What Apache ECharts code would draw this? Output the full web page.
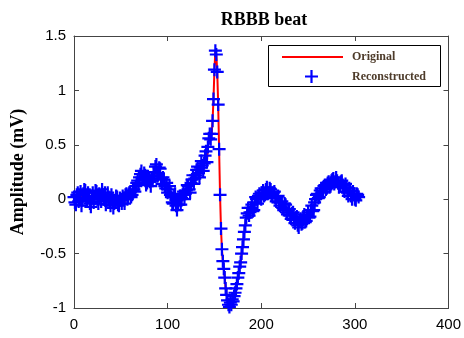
<!DOCTYPE html>
<html>
<head>
<meta charset="utf-8">
<script src="https://cdn.jsdelivr.net/npm/echarts@6/dist/echarts.min.js"></script>
<style>
html,body{margin:0;padding:0;background:#fff;}
#chart{width:464px;height:338px;}
</style>
</head>
<body>
<div id="chart"></div>
<script>
// Amplitude (mV) of the original beat, one value per sample (sample 0 .. 304)
var original = [
  0.02,-0.03,-0.05,0.04,0.06,-0.02,0.00,0.07,-0.06,-0.01,
  0.05,0.09,0.08,0.01,-0.02,0.06,0.03,-0.04,-0.07,0.02,
  0.06,-0.03,0.01,0.08,0.07,0.00,-0.04,0.05,0.03,-0.02,
  0.09,0.04,0.00,0.06,-0.05,-0.01,0.06,0.02,-0.02,-0.06,
  0.04,0.00,-0.08,-0.04,-0.03,0.03,0.02,-0.05,-0.06,0.01,
  -0.01,-0.04,0.03,0.00,-0.04,0.04,0.05,0.00,0.02,0.06,
  0.06,0.02,0.04,0.08,0.09,0.07,0.12,0.15,0.17,0.14,
  0.20,0.23,0.26,0.19,0.18,0.24,0.22,0.13,0.15,0.21,
  0.20,0.16,0.12,0.19,0.17,0.25,0.22,0.30,0.32,0.21,
  0.24,0.29,0.28,0.19,0.14,0.20,0.18,0.12,0.10,0.15,
  0.06,0.09,0.12,0.04,0.02,-0.03,-0.04,0.03,0.05,-0.06,
  -0.10,-0.05,0.00,0.03,-0.05,0.01,0.04,0.07,0.00,0.05,
  0.08,0.13,0.12,0.09,0.06,0.15,0.18,0.22,0.14,0.19,
  0.22,0.27,0.30,0.24,0.20,0.29,0.35,0.31,0.26,0.33,
  0.40,0.44,0.34,0.48,0.56,0.60,0.55,0.60,0.72,0.92,
  1.19,1.365,1.33,1.17,0.87,0.46,0.04,-0.27,-0.46,-0.57,
  -0.64,-0.72,-0.82,-0.88,-0.93,-0.97,-0.99,-0.95,-0.97,-0.92,
  -0.94,-0.89,-0.86,-0.82,-0.78,-0.72,-0.68,-0.62,-0.58,-0.50,
  -0.44,-0.37,-0.30,-0.24,-0.17,-0.13,-0.08,-0.15,-0.12,-0.08,
  -0.05,-0.11,-0.10,-0.03,0.02,0.00,-0.04,0.03,0.05,0.01,
  0.00,0.06,0.08,0.03,0.04,0.09,0.11,0.05,0.06,0.10,
  0.09,0.04,0.02,0.06,0.07,0.01,-0.02,0.02,0.03,-0.03,
  -0.06,-0.03,-0.02,-0.08,-0.10,-0.04,-0.05,-0.12,-0.14,-0.10,
  -0.09,-0.15,-0.18,-0.13,-0.12,-0.19,-0.22,-0.17,-0.16,-0.24,
  -0.26,-0.20,-0.18,-0.23,-0.22,-0.16,-0.14,-0.21,-0.20,-0.15,
  -0.12,-0.17,-0.16,-0.10,-0.06,-0.11,-0.10,-0.03,0.00,0.04,
  0.05,0.01,0.02,0.08,0.10,0.06,0.07,0.12,0.13,0.09,
  0.10,0.15,0.16,0.11,0.12,0.17,0.18,0.19,0.14,0.16,
  0.20,0.17,0.15,0.11,0.12,0.16,0.17,0.13,0.10,0.07,
  0.14,0.11,0.06,0.03,0.10,0.08,0.03,0.00,0.07,0.05,
  0.00,-0.01,0.05,0.04,0.02
];
// Reconstructed beat (indistinguishable from the original at this scale)
var reconstructed = original.slice();

var xTicks = [0, 100, 200, 300, 400];
var yTicks = [-1, -0.5, 0, 0.5, 1, 1.5];

var origData = original.map(function (v, i) { return [i, v]; });
var recData = reconstructed.map(function (v, i) { return [i, v]; });

var plusPath = 'path://M4.15,0 H5.85 V4.15 H10 V5.85 H5.85 V10 H4.15 V5.85 H0 V4.15 H4.15 Z';
var axisColor = '#444';
var tickFont = { color: '#000', fontFamily: 'Liberation Sans', fontSize: 15 };
var legendText = { color: '#4d3b2a', fontFamily: 'Liberation Serif', fontWeight: 'bold', fontSize: 12 };

var chart = echarts.init(document.getElementById('chart'), null, { renderer: 'canvas' });
chart.setOption({
  animation: false,
  backgroundColor: '#fff',
  title: {
    text: 'RBBB beat',
    left: 259,
    textAlign: 'center',
    top: 6,
    textStyle: { fontFamily: 'Liberation Serif', fontWeight: 'bold', fontSize: 18, color: '#000' }
  },
  grid: { left: 74, right: 15, top: 36, bottom: 30, show: false },
  xAxis: [{
    type: 'value',
    min: xTicks[0], max: xTicks[xTicks.length - 1], interval: 100,
    axisLine: { show: true, onZero: false, lineStyle: { color: axisColor, width: 1 } },
    axisTick: { show: true, inside: true, length: 5, lineStyle: { color: axisColor } },
    axisLabel: Object.assign({ margin: 9 }, tickFont),
    splitLine: { show: false }
  }, {
    type: 'value', position: 'top',
    min: xTicks[0], max: xTicks[xTicks.length - 1], interval: 100,
    axisLine: { show: true, onZero: false, lineStyle: { color: axisColor, width: 1 } },
    axisTick: { show: true, inside: true, length: 5, lineStyle: { color: axisColor } },
    axisLabel: { show: false },
    splitLine: { show: false }
  }],
  yAxis: [{
    type: 'value',
    min: yTicks[0], max: yTicks[yTicks.length - 1], interval: 0.5,
    name: 'Amplitude (mV)',
    nameLocation: 'middle',
    nameGap: 47,
    nameTextStyle: { fontFamily: 'Liberation Serif', fontWeight: 'bold', fontSize: 18, color: '#000' },
    axisLine: { show: true, onZero: false, lineStyle: { color: axisColor, width: 1 } },
    axisTick: { show: true, inside: true, length: 5, lineStyle: { color: axisColor } },
    axisLabel: Object.assign({ margin: 8 }, tickFont),
    splitLine: { show: false }
  }, {
    type: 'value', position: 'right',
    min: yTicks[0], max: yTicks[yTicks.length - 1], interval: 0.5,
    axisLine: { show: true, onZero: false, lineStyle: { color: axisColor, width: 1 } },
    axisTick: { show: true, inside: true, length: 5, lineStyle: { color: axisColor } },
    axisLabel: { show: false },
    splitLine: { show: false }
  }],
  legend: [{
    left: 282, top: 51, padding: 0,
    itemWidth: 61, itemHeight: 2,
    data: [{ name: 'Original', icon: 'rect' }],
    textStyle: Object.assign({ padding: [0, 0, 0, 4] }, legendText),
    selectedMode: false
  }, {
    left: 305, top: 70, padding: 0,
    itemWidth: 13, itemHeight: 13,
    data: [{ name: 'Reconstructed', icon: plusPath }],
    textStyle: Object.assign({ padding: [0, 0, 0, 29] }, legendText),
    selectedMode: false
  }],
  graphic: [{
    type: 'rect',
    shape: { x: 268.5, y: 45.5, width: 172, height: 41 },
    style: { fill: '#fff', stroke: '#000', lineWidth: 1 },
    z: 0, zlevel: 0
  }],
  series: [{
    name: 'Original',
    type: 'line',
    data: origData,
    showSymbol: false,
    symbol: 'none',
    lineStyle: { color: '#ff0000', width: 2 },
    itemStyle: { color: '#ff0000' },
    z: 2
  }, {
    name: 'Reconstructed',
    type: 'scatter',
    data: recData,
    symbol: plusPath,
    symbolSize: 13,
    clip: false,
    itemStyle: { color: '#0000ff', opacity: 1 },
    z: 3
  }]
});
</script>
</body>
</html>
